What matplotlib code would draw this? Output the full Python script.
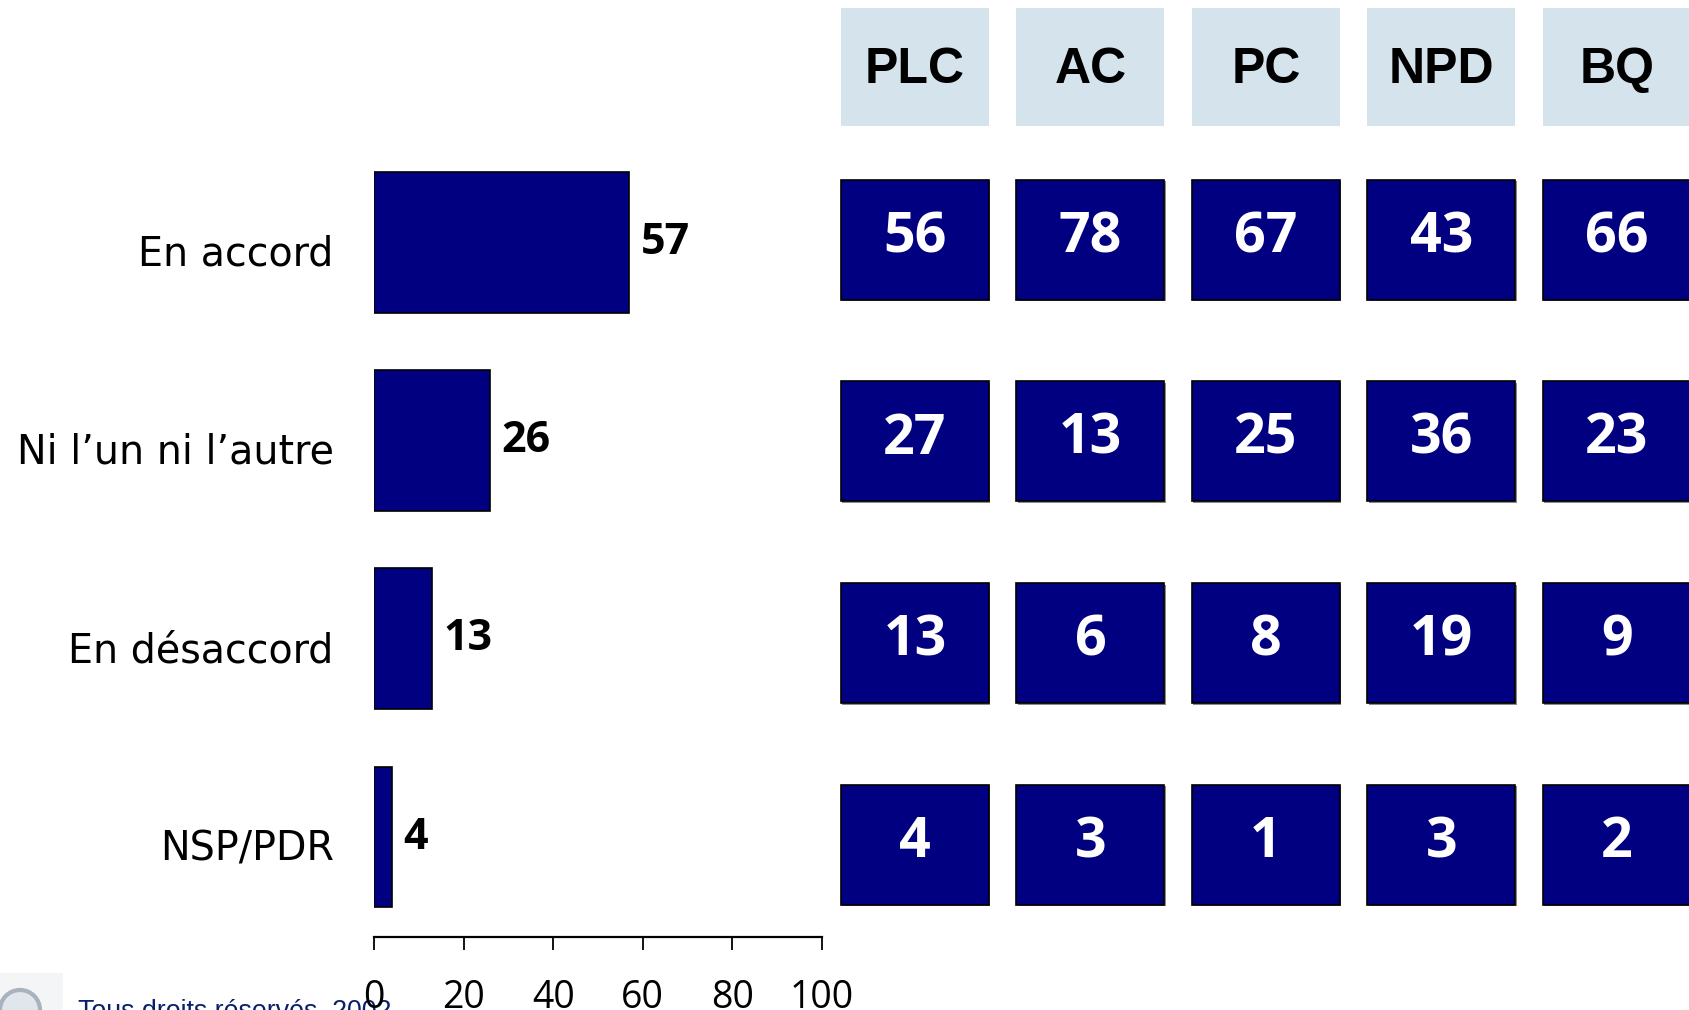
import matplotlib
matplotlib.use("Agg")
import matplotlib.pyplot as plt
from matplotlib.patches import Rectangle, Circle
from matplotlib.transforms import ScaledTranslation

# ---------------- data ----------------
categories = ["En accord", "Ni l\u2019un ni l\u2019autre", "En d\u00e9saccord", "NSP/PDR"]
total = [57, 26, 13, 4]
parties = ["PLC", "AC", "PC", "NPD", "BQ"]
by_party = {
    "PLC": [56, 27, 13, 4],
    "AC": [78, 13, 6, 3],
    "PC": [67, 25, 8, 1],
    "NPD": [43, 36, 19, 3],
    "BQ": [66, 23, 9, 2],
}
xticks = [0, 20, 40, 60, 80, 100]
footer = "Tous droits r\u00e9serv\u00e9s, 2002"

# ---------------- style ----------------
SANS = "Open Sans"
NAVY = "#000080"
HEAD = "#D5E3EC"

W, H = 1689, 1010
fig = plt.figure(figsize=(W / 100, H / 100), dpi=100)
fig.patch.set_facecolor("white")

def fx(px):
    return px / W

def fy(py):
    return 1 - py / H

# ---------------- left bar chart ----------------
ax_l, ax_r = 374, 822
ax_t, ax_b = 143, 937
ax = fig.add_axes([fx(ax_l), fy(ax_b), fx(ax_r - ax_l), (ax_b - ax_t) / H])
ypos = list(range(len(categories)))
ax.barh(ypos, total, height=0.71, color=NAVY, edgecolor="black", linewidth=1.2)
ax.set_xlim(0, 100)
ax.set_ylim(3.504, -0.5)
for s in ["top", "right", "left"]:
    ax.spines[s].set_visible(False)
ax.spines["bottom"].set_linewidth(1.6)
ax.set_xticks(xticks)
ax.set_xticklabels([str(t) for t in xticks], fontfamily=SANS, fontsize=27)
ax.tick_params(axis="x", length=9.5, width=1.3, pad=21, direction="out")
ax.set_yticks(ypos)
ax.set_yticklabels(categories, fontfamily="DejaVu Sans", fontsize=28.5)
ax.tick_params(axis="y", length=0, pad=29)
shift = ScaledTranslation(0, -8 / 100, fig.dpi_scale_trans)
for lab in ax.get_yticklabels():
    lab.set_transform(lab.get_transform() + shift)
for y, v in zip(ypos, total):
    ax.annotate(str(v), xy=(v, y), xytext=(8, 0), textcoords="offset points",
                ha="left", va="center", fontfamily=SANS, fontweight="bold",
                fontsize=31, color="black")

# ---------------- right grid (pixel coordinates) ----------------
ov = fig.add_axes([0, 0, 1, 1])
ov.set_xlim(0, W)
ov.set_ylim(H, 0)
ov.axis("off")
ov.set_zorder(-1)

col_x0, col_dx, box_w = 841, 175.5, 148
row_y0, row_dy, box_h = 239.6, 201.7, 120
head_top, head_h = 8, 118

for i, p in enumerate(parties):
    x = col_x0 + i * col_dx
    ov.add_patch(Rectangle((x, head_top), box_w, head_h, facecolor=HEAD, edgecolor="none"))
    ov.text(x + box_w / 2, head_top + head_h / 2 + 3, p, ha="center", va="center",
            fontfamily="Liberation Sans", fontweight="bold", fontsize=36, color="black")
    for j, v in enumerate(by_party[p]):
        cy = row_y0 + j * row_dy
        ov.add_patch(Rectangle((x + 1.5, cy - box_h / 2 + 1.5), box_w, box_h,
                               facecolor="#8a8a8a", edgecolor="none"))
        ov.add_patch(Rectangle((x, cy - box_h / 2), box_w, box_h,
                               facecolor=NAVY, edgecolor="black", linewidth=1.2))
        ov.text(x + box_w / 2, cy - 2, str(v), ha="center", va="center",
                fontfamily=SANS, fontweight="bold", fontsize=40, color="white")

# ---------------- footer ----------------
ov.add_patch(Rectangle((0, 973), 63, 40, facecolor="#F3F5F7", edgecolor="none"))
ov.add_patch(Circle((20, 1010), 20, facecolor="#E1E6EC", edgecolor="#A9B3BE", linewidth=3))
ov.text(78, 1018, footer, ha="left", va="baseline", fontfamily="Liberation Sans",
        fontsize=19.3, color="#0B1F6B")

fig.savefig("out.png", dpi=100)
